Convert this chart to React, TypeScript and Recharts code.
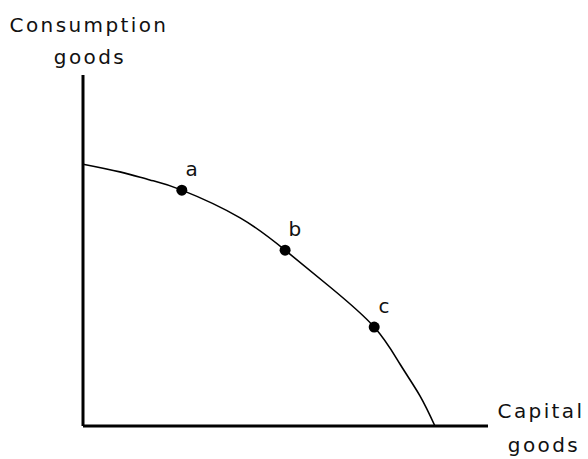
import React from 'react';
import { ComposedChart, Line, Scatter, XAxis, YAxis, LabelList, Label } from 'recharts';

const curveX = [0, 9.1, 16.5, 24.4, 38.8, 49.9, 61, 71.9, 78.3, 83.2, 86.9];
const curveY = [74.6, 72.4, 70.1, 67.2, 59.3, 50.1, 39.6, 28.2, 17.6, 8.6, 0];

const pointNames = ['a', 'b', 'c'];
const pointX = [24.4, 49.9, 71.9];
const pointY = [67.2, 50.1, 28.2];

const yTitle = ['Consumption', 'goods'];
const xTitle = ['Capital', 'goods'];

const curveData = curveX.map((x, i) => ({ x, y: curveY[i] }));
const pointData = pointNames.map((name, i) => ({ name, x: pointX[i], y: pointY[i] }));

const FONT = '"DejaVu Sans", sans-serif';
const textStyle = { fontFamily: FONT, fontSize: 20, letterSpacing: 2.4, fill: '#111' } as const;

export default function App() {
  return (
    <div style={{ position: 'fixed', left: 0, top: 0, width: 588, height: 459, background: '#fff' }}>
      <ComposedChart width={588} height={459} margin={{ top: 75, right: 100, bottom: 13, left: 63 }}>
        <XAxis
          dataKey="x"
          type="number"
          domain={[0, 100]}
          tick={false}
          tickLine={false}
          height={20}
          axisLine={{ stroke: '#000', strokeWidth: 3 }}
        >
          <Label
            position="insideBottomRight"
            content={() => (
              <g>
                <text x={541} y={418} textAnchor="middle" style={textStyle}>{xTitle[0]}</text>
                <text x={544} y={452} textAnchor="middle" style={textStyle}>{xTitle[1]}</text>
              </g>
            )}
          />
        </XAxis>
        <YAxis
          dataKey="y"
          type="number"
          domain={[0, 100]}
          tick={false}
          tickLine={false}
          width={20}
          axisLine={{ stroke: '#000', strokeWidth: 3 }}
        >
          <Label
            position="insideTopLeft"
            content={() => (
              <g>
                <text x={89} y={32} textAnchor="middle" style={textStyle}>{yTitle[0]}</text>
                <text x={90} y={64} textAnchor="middle" style={textStyle}>{yTitle[1]}</text>
              </g>
            )}
          />
        </YAxis>
        <Line
          data={curveData}
          dataKey="y"
          type="natural"
          stroke="#000"
          strokeWidth={1.6}
          dot={false}
          activeDot={false}
          isAnimationActive={false}
        />
        <Scatter
          data={pointData}
          dataKey="y"
          isAnimationActive={false}
          shape={(p: any) => <circle cx={p.cx} cy={p.cy} r={5.5} fill="#000" />}
        >
          <LabelList
            dataKey="name"
            content={(p: any) => (
              <text x={p.x + p.width / 2 + 11} y={p.y + p.height / 2 - 14} textAnchor="middle" style={textStyle}>
                {p.value}
              </text>
            )}
          />
        </Scatter>
      </ComposedChart>
    </div>
  );
}
